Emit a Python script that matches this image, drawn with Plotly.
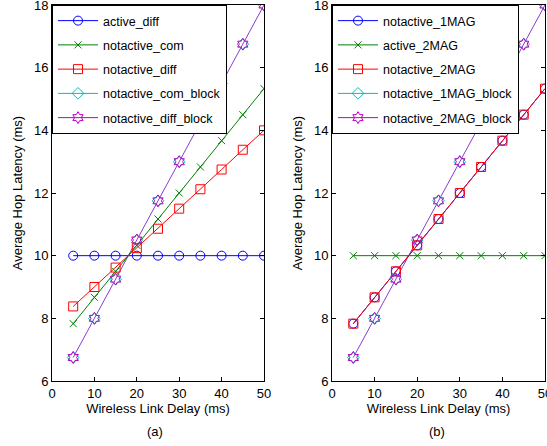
import plotly.graph_objects as go

delay = [5, 10, 15, 20, 25, 30, 35, 40, 45, 50]

# Panel (a)
a_active_diff = [10, 10, 10, 10, 10, 10, 10, 10, 10, 10]
a_notactive_com = [7.83, 8.67, 9.5, 10.33, 11.17, 12.0, 12.83, 13.67, 14.5, 15.33]
a_notactive_diff = [8.38, 9.0, 9.62, 10.24, 10.86, 11.5, 12.12, 12.75, 13.38, 14.0]
a_notactive_com_block = [6.75, 8.0, 9.25, 10.5, 11.75, 13.0, 14.25, 15.5, 16.75, 18.0]
a_notactive_diff_block = [6.75, 8.0, 9.25, 10.5, 11.75, 13.0, 14.25, 15.5, 16.75, 18.0]

# Panel (b)
b_notactive_1MAG = [7.83, 8.67, 9.5, 10.33, 11.17, 12.0, 12.83, 13.67, 14.5, 15.33]
b_active_2MAG = [10, 10, 10, 10, 10, 10, 10, 10, 10, 10]
b_notactive_2MAG = [7.83, 8.67, 9.5, 10.33, 11.17, 12.0, 12.83, 13.67, 14.5, 15.33]
b_notactive_1MAG_block = [6.75, 8.0, 9.25, 10.5, 11.75, 13.0, 14.25, 15.5, 16.75, 18.0]
b_notactive_2MAG_block = [6.75, 8.0, 9.25, 10.5, 11.75, 13.0, 14.25, 15.5, 16.75, 18.0]

names_a = ["active_diff", "notactive_com", "notactive_diff", "notactive_com_block", "notactive_diff_block"]
names_b = ["notactive_1MAG", "active_2MAG", "notactive_2MAG", "notactive_1MAG_block", "notactive_2MAG_block"]

BLUE = "#0000FF"
GREEN = "#008000"
RED = "#FF0000"
CYAN = "#00BFBF"
MAGENTA = "#BF00BF"
PURPLE = "#8A3CD0"
FONT = "Liberation Sans, Arial, sans-serif"

styles = [
    (BLUE, "circle-open", 9),
    (GREEN, "x-thin-open", 7),
    (RED, "square-open", 9),
    (CYAN, "diamond-open", 9),
    (MAGENTA, "hexagram-open", 9),
]

fig = go.Figure()


def add_panel(series, names, xa, ya, legend):
    # purple-looking overlap of the two block lines
    fig.add_trace(go.Scatter(x=delay, y=series[4], mode="lines", line=dict(color=PURPLE, width=1),
                             showlegend=False, xaxis=xa, yaxis=ya, hoverinfo="skip"))
    for i in range(5):
        color, sym, size = styles[i]
        if i < 3:
            fig.add_trace(go.Scatter(
                x=delay, y=series[i], name=names[i], mode="lines+markers",
                line=dict(color=color, width=1),
                marker=dict(symbol=sym, size=size, color=color, line=dict(width=1, color=color)),
                xaxis=xa, yaxis=ya, legend=legend, legendgroup=legend + str(i),
            ))
        else:
            fig.add_trace(go.Scatter(
                x=delay, y=series[i], name=names[i], mode="markers",
                marker=dict(symbol=sym, size=size, color=color, line=dict(width=1, color=color)),
                xaxis=xa, yaxis=ya, showlegend=False, legendgroup=legend + str(i),
            ))
            fig.add_trace(go.Scatter(
                x=[None], y=[None], name=names[i], mode="lines+markers",
                line=dict(color=color, width=1),
                marker=dict(symbol=sym, size=size, color=color, line=dict(width=1, color=color)),
                xaxis=xa, yaxis=ya, legend=legend, legendgroup=legend + str(i),
            ))


add_panel([a_active_diff, a_notactive_com, a_notactive_diff, a_notactive_com_block, a_notactive_diff_block],
          names_a, "x", "y", "legend")
add_panel([b_notactive_1MAG, b_active_2MAG, b_notactive_2MAG, b_notactive_1MAG_block, b_notactive_2MAG_block],
          names_b, "x2", "y2", "legend2")

W, H = 547, 446
axis_common = dict(
    range=[0, 50], tickvals=[0, 10, 20, 30, 40, 50], ticks="inside", ticklen=4, tickcolor="black",
    mirror="ticks", showline=True, linecolor="black", linewidth=1, showgrid=False, zeroline=False,
    tickfont=dict(size=13, color="black", family=FONT), ticklabeloverflow="allow", automargin=False,
    title=dict(text="Wireless Link Delay (ms)", font=dict(size=13, color="black", family=FONT), standoff=0),
)
yaxis_common = dict(
    range=[6, 18], tickvals=[6, 8, 10, 12, 14, 16, 18], ticks="inside", ticklen=4, tickcolor="black",
    mirror="ticks", showline=True, linecolor="black", linewidth=1, showgrid=False, zeroline=False,
    tickfont=dict(size=13, color="black", family=FONT), ticklabeloverflow="allow", automargin=False,
    title=dict(text="Average Hop Latency (ms)", font=dict(size=13, color="black", family=FONT), standoff=8),
)

legend_common = dict(
    bgcolor="white", bordercolor="black", borderwidth=1,
    font=dict(size=12.5, color="black", family=FONT),
    xanchor="left", yanchor="top", tracegroupgap=5, itemwidth=40,
)

fig.update_layout(
    width=W, height=H,
    margin=dict(l=0, r=0, t=0, b=0, autoexpand=False),
    paper_bgcolor="white", plot_bgcolor="white",
    font=dict(family=FONT, color="black"),
    xaxis=dict(domain=[52 / W, 264 / W], anchor="y", **axis_common),
    yaxis=dict(domain=[1 - 381 / H, 1 - 5 / H], anchor="x", **yaxis_common),
    xaxis2=dict(domain=[332 / W, 545 / W], anchor="y2", **axis_common),
    yaxis2=dict(domain=[1 - 381 / H, 1 - 5 / H], anchor="x2", **yaxis_common),
    legend=dict(x=52 / W, y=1 - 5 / H, **legend_common),
    legend2=dict(x=332 / W, y=1 - 5 / H, **legend_common),
    annotations=[
        dict(text="(a)", x=155 / W, y=1 - 431 / H, xref="paper", yref="paper", showarrow=False,
             xanchor="center", yanchor="middle", font=dict(size=13, color="black", family=FONT)),
        dict(text="(b)", x=437 / W, y=1 - 431 / H, xref="paper", yref="paper", showarrow=False,
             xanchor="center", yanchor="middle", font=dict(size=13, color="black", family=FONT)),
    ],
    showlegend=True,
)

fig.write_html("out.html", config={"displayModeBar": False},
               post_script="document.body.style.margin='0';")
